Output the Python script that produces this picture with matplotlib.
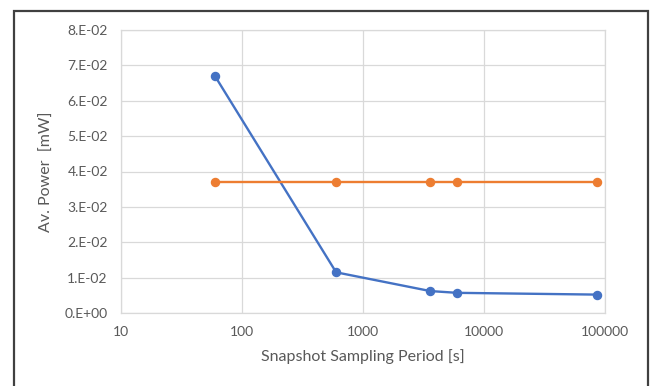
import matplotlib
matplotlib.use("Agg")
from matplotlib import pyplot as plt
from matplotlib.patches import Rectangle
from matplotlib.ticker import FuncFormatter, FixedLocator, NullLocator

plt.rcParams['font.family'] = ['Lato', 'DejaVu Sans']

period = [60, 600, 3600, 6000, 86400]
power_blue = [0.0669, 0.0115, 0.0062, 0.0057, 0.0052]
power_orange = [0.0369, 0.0369, 0.0369, 0.0369, 0.0369]

x_ticks = [10, 100, 1000, 10000, 100000]
y_ticks = [0.0, 0.01, 0.02, 0.03, 0.04, 0.05, 0.06, 0.07, 0.08]

txt = "#595959"
grid_c = "#D9D9D9"

fig = plt.figure(figsize=(6.51, 3.86), dpi=100)
ax = fig.add_axes([121/651, 1 - 313/386, (605 - 121)/651, (313 - 30)/386])

ax.plot(period, power_blue, color="#4472C4", lw=1.7, marker="o", ms=5.8, zorder=3)
ax.plot(period, power_orange, color="#ED7D31", lw=1.7, marker="o", ms=5.8, zorder=3)

ax.set_xscale("log")
ax.set_xlim(10, 100000)
ax.set_ylim(0, 0.08)
ax.xaxis.set_major_locator(FixedLocator(x_ticks))
ax.xaxis.set_minor_locator(NullLocator())
ax.xaxis.set_major_formatter(FuncFormatter(lambda v, p: "%d" % v))
ax.yaxis.set_major_locator(FixedLocator(y_ticks))
ax.yaxis.set_major_formatter(FuncFormatter(lambda v, p: "{:#.0E}".format(v)))

ax.grid(True, color=grid_c, lw=0.9)
ax.set_axisbelow(True)
for s in ax.spines.values():
    s.set_color(grid_c)
    s.set_linewidth(0.9)
ax.tick_params(length=0, colors=txt, labelsize=10)
ax.tick_params(axis="y", pad=9.5)
ax.tick_params(axis="x", pad=9)

ax.set_xlabel("Snapshot Sampling Period [s]", color=txt, fontsize=11.5, labelpad=8)
ax.set_ylabel("Av. Power  [mW]", color=txt, fontsize=11.5, labelpad=8)

# chart border
fig.patches.append(Rectangle((14/651, -0.05), (648 - 14)/651, 1 - 11/386 + 0.05,
                             transform=fig.transFigure, fill=False,
                             edgecolor="#404040", lw=1.6))

fig.savefig("out.png", dpi=100)
